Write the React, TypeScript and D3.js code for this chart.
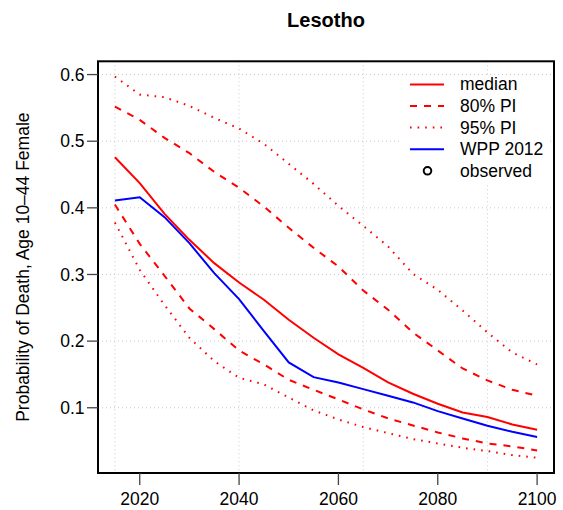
import React from "react";
import * as d3 from "d3";

const years = [2015, 2020, 2025, 2030, 2035, 2040, 2045, 2050, 2055, 2060, 2065, 2070, 2075, 2080, 2085, 2090, 2095, 2100];
const median = [0.476, 0.437, 0.391, 0.352, 0.317, 0.288, 0.262, 0.232, 0.205, 0.18, 0.16, 0.138, 0.121, 0.106, 0.093, 0.086, 0.075, 0.067];
const wpp2012 = [0.411, 0.416, 0.386, 0.347, 0.302, 0.263, 0.215, 0.168, 0.146, 0.138, 0.128, 0.118, 0.108, 0.095, 0.084, 0.073, 0.064, 0.056];
const pi80Upper = [0.552, 0.532, 0.505, 0.482, 0.454, 0.43, 0.402, 0.37, 0.34, 0.312, 0.276, 0.247, 0.213, 0.186, 0.159, 0.141, 0.127, 0.118];
const pi80Lower = [0.405, 0.346, 0.298, 0.249, 0.218, 0.186, 0.165, 0.142, 0.127, 0.1125, 0.0975, 0.084, 0.0735, 0.063, 0.054, 0.0465, 0.042, 0.036];
const pi95Upper = [0.597, 0.57, 0.566, 0.553, 0.535, 0.519, 0.496, 0.466, 0.436, 0.403, 0.373, 0.342, 0.301, 0.277, 0.246, 0.213, 0.183, 0.165];
const pi95Lower = [0.378, 0.307, 0.254, 0.205, 0.17, 0.145, 0.135, 0.1155, 0.096, 0.0825, 0.071, 0.062, 0.053, 0.0465, 0.04, 0.035, 0.029, 0.025];

const xTicks = [2020, 2040, 2060, 2080, 2100];
const yTicks = [0.1, 0.2, 0.3, 0.4, 0.5, 0.6];
const xGrid = [2015, 2040, 2065, 2090];

const title = "Lesotho";
const yLabel = "Probability of Death, Age 10\u201344 Female";
const legendLabels = ["median", "80% PI", "95% PI", "WPP 2012", "observed"];

const W = 563, H = 510;
const L = 98, R = 554, T = 61.3, B = 473;
const FONT = "'Liberation Sans', Arial, sans-serif";
const FS = 17.5;

export default function App() {
  const x = d3.scaleLinear().domain([2011.6, 2103.4]).range([L, R]);
  const y = d3.scaleLinear().domain([0.0021, 0.6199]).range([B, T]);
  const line = (vals: number[]) =>
    d3.line<number>().x((_, i) => x(years[i])).y((v) => y(v))(vals) || "";

  const series = [
    { vals: pi95Upper, color: "#ff0000", dash: "1.6,6" },
    { vals: pi95Lower, color: "#ff0000", dash: "1.6,6" },
    { vals: pi80Upper, color: "#ff0000", dash: "7,7" },
    { vals: pi80Lower, color: "#ff0000", dash: "7,7" },
    { vals: wpp2012, color: "#0000ff", dash: undefined },
    { vals: median, color: "#ff0000", dash: undefined },
  ];

  const legendStyles = [
    { color: "#ff0000", dash: undefined as string | undefined },
    { color: "#ff0000", dash: "7,7" },
    { color: "#ff0000", dash: "1.6,6" },
    { color: "#0000ff", dash: undefined },
  ];
  const legY0 = 84.4, legDy = 21.6;

  return (
    <svg width={W} height={H} style={{ position: "absolute", left: 0, top: 0 }} fontFamily={FONT}>
      <rect x={0} y={0} width={W} height={H} fill="#fff" />
      <text x={(L + R) / 2} y={27} textAnchor="middle" fontSize={20} fontWeight="bold">{title}</text>
      {/* grid */}
      {xGrid.map((g) => (
        <line key={"gx" + g} x1={x(g)} x2={x(g)} y1={T} y2={B} stroke="#c8c8c8" strokeWidth={1} strokeDasharray="1,3" />
      ))}
      {yTicks.map((g) => (
        <line key={"gy" + g} x1={L} x2={R} y1={y(g)} y2={y(g)} stroke="#c8c8c8" strokeWidth={1} strokeDasharray="1,3" />
      ))}
      <defs>
        <clipPath id="clip">
          <rect x={L} y={T} width={R - L} height={B - T} />
        </clipPath>
      </defs>
      {/* series */}
      <g clipPath="url(#clip)">
        {series.map((s, i) => (
          <path key={i} d={line(s.vals)} fill="none" stroke={s.color} strokeWidth={2} strokeDasharray={s.dash} />
        ))}
      </g>
      {/* legend */}
      <rect x={402} y={76} width={146} height={108} fill="#fff" />
      {legendLabels.map((lab, i) => {
        const ly = legY0 + i * legDy;
        return (
          <g key={lab}>
            {i < 4 ? (
              <line x1={410} x2={444} y1={ly} y2={ly} stroke={legendStyles[i].color} strokeWidth={2} strokeDasharray={legendStyles[i].dash} />
            ) : (
              <circle cx={427.5} cy={ly} r={3.8} fill="none" stroke="#000" strokeWidth={2} />
            )}
            <text x={460} y={ly + 6} fontSize={FS}>{lab}</text>
          </g>
        );
      })}
      {/* box */}
      <rect x={L} y={T} width={R - L} height={B - T} fill="none" stroke="#000" strokeWidth={2} />
      {/* y axis */}
      {yTicks.map((t) => (
        <g key={"yt" + t}>
          <line x1={87} x2={L} y1={y(t)} y2={y(t)} stroke="#444" strokeWidth={1.3} />
          <text x={84.5} y={y(t) + 6.2} textAnchor="end" fontSize={FS}>{d3.format(".1f")(t)}</text>
        </g>
      ))}
      {/* x axis */}
      {xTicks.map((t) => (
        <g key={"xt" + t}>
          <line x1={x(t)} x2={x(t)} y1={B} y2={485} stroke="#444" strokeWidth={1.3} />
          <text x={x(t)} y={505} textAnchor="middle" fontSize={FS}>{t}</text>
        </g>
      ))}
      <text transform={`translate(29,${(T + B) / 2}) rotate(-90)`} textAnchor="middle" fontSize={FS}>{yLabel}</text>
    </svg>
  );
}
